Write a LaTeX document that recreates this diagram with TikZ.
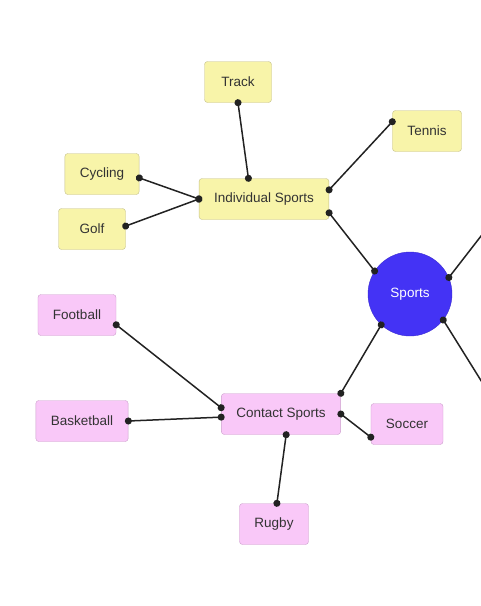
\documentclass[tikz,border=0pt]{standalone}
\usepackage{fontspec}
\setmainfont{Liberation Sans}
\usepackage{tikz}
\usetikzlibrary{arrows.meta}
\definecolor{leafyellow}{HTML}{F8F4A9}
\definecolor{leafyellowedge}{HTML}{C4BF8A}
\definecolor{leafpink}{HTML}{F9C8F8}
\definecolor{leafpinkedge}{HTML}{CCA0CC}
\definecolor{hubblue}{HTML}{4433F5}
\definecolor{linkgray}{HTML}{222222}

\begin{document}
\begin{tikzpicture}[x=1pt,y=-1pt,
  ind/.style={draw=leafyellowedge,fill=leafyellow,rounded corners=3pt,font=\fontsize{13.5}{16}\selectfont,text=black!80,minimum height=41pt,minimum width=67pt,inner xsep=15pt},
  con/.style={ind,draw=leafpinkedge,fill=leafpink},
  hub/.style={circle,draw=hubblue!85!black,fill=hubblue,minimum size=84pt,inner sep=0pt,font=\fontsize{13.5}{16}\selectfont,text=white},
  link/.style={draw=linkgray,line width=1.5pt,{Circle[length=7pt]}-{Circle[length=7pt]},shorten <=-3.5pt,shorten >=-3.5pt},
  hubline/.style={draw=linkgray,line width=1.5pt,{Circle[length=7pt]}-,shorten <=-3.5pt}]
\clip (0,0) rectangle (481,606);
\useasboundingbox (0,0) rectangle (481,606);
% hub
\node[hub] (sports) at (410,294) {Sports};
% individual branch
\node[ind] (indiv) at (264,199) {Individual Sports};
\node[ind] (track) at (238,82) {Track};
\node[ind] (tennis) at (427,131) {Tennis};
\node[ind] (cycling) at (102,174) {Cycling};
\node[ind] (golf) at (92,229) {Golf};
% contact branch
\node[con] (contact) at (281,414) {Contact Sports};
\node[con] (football) at (77,315) {Football};
\node[con] (basket) at (82,421) {Basketball};
\node[con] (soccer) at (407,424) {Soccer};
\node[con] (rugby) at (274,524) {Rugby};
\coordinate (offup) at (495,218);
\coordinate (offdown) at (495,403);
\foreach \x/\y in {indiv.-12/sports.147,indiv.8/tennis.165,cycling.-6/indiv.west,golf.5/indiv.west,track.south/indiv.127,
  sports.227/contact.north east,football.-14/contact.174,basket.east/contact.183,contact.east/soccer.200,contact.-76/rugby.82}
  \draw[link] (\x) -- (\y);
\draw[hubline] (sports.23) -- (offup);
\draw[hubline] (sports.-38) -- (offdown);
\end{tikzpicture}
\end{document}
